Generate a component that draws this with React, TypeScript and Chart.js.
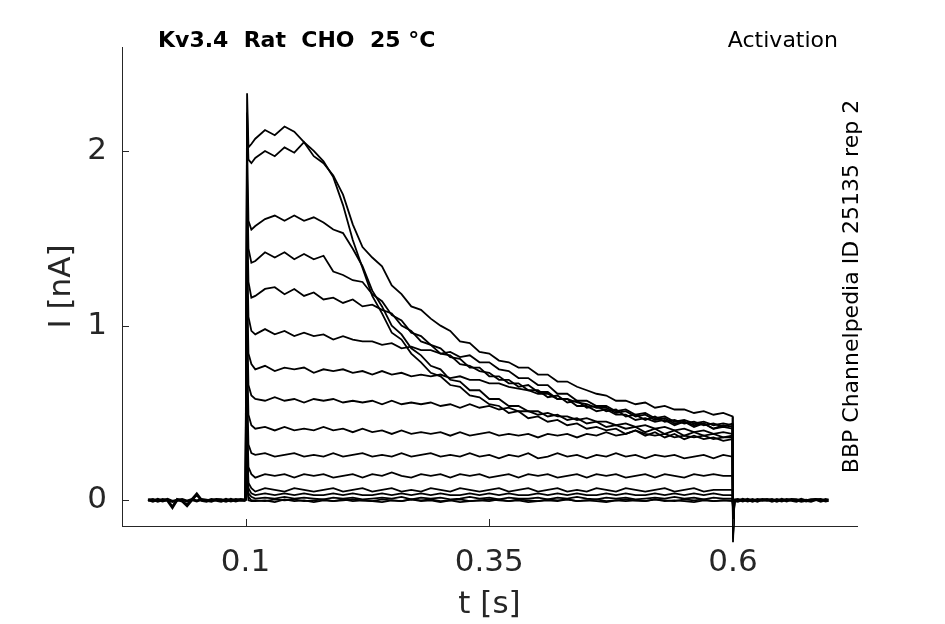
import React, { useEffect, useRef } from "react";
import { Chart, registerables } from "chart.js";

Chart.register(...registerables);

// ---- text ----
const TITLE = "Kv3.4  Rat  CHO  25 °C";
const SUBTITLE = "Activation";
const SIDE_LABEL = "BBP Channelpedia ID 25135 rep 2";
const X_LABEL = "t [s]";
const Y_LABEL = "I [nA]";

// ---- axes ----
const X_MIN = -0.0267;
const X_MAX = 0.7272;
const Y_MIN = -0.147;
const Y_MAX = 2.595;
const xTicks = [0.1, 0.35, 0.6];
const yTicks = [0, 1, 2];

// ---- time bases (s) ----
const tPre = [
  0.0, 0.005, 0.01, 0.015, 0.02, 0.025, 0.03, 0.035, 0.04, 0.045,
  0.05, 0.055, 0.06, 0.065, 0.07, 0.075, 0.08, 0.085, 0.09, 0.095, 0.1,
];
const tPost = [
  0.6, 0.605, 0.61, 0.615, 0.62, 0.625, 0.63, 0.635, 0.64, 0.645,
  0.65, 0.655, 0.66, 0.665, 0.67, 0.675, 0.68, 0.685, 0.69, 0.695, 0.698,
];
const tPulse = [
  0.1, 0.1016, 0.103, 0.106,
  0.11, 0.12, 0.13, 0.14, 0.15, 0.16, 0.17, 0.18, 0.19, 0.2,
  0.21, 0.22, 0.23, 0.24, 0.25, 0.26, 0.27, 0.28, 0.29, 0.3,
  0.31, 0.32, 0.33, 0.34, 0.35, 0.36, 0.37, 0.38, 0.39, 0.4,
  0.41, 0.42, 0.43, 0.44, 0.45, 0.46, 0.47, 0.48, 0.49, 0.5,
  0.51, 0.52, 0.53, 0.54, 0.55, 0.56, 0.57, 0.58, 0.59,
  0.5995, 0.6, 0.6015,
];

// ---- baseline (holding) current, nA ----
const basePreA = [0.0, 0.005, -0.005, 0.004, 0.0, -0.04, 0.005, -0.004, -0.03, 0.003, 0.035, 0.0, -0.005, 0.005, 0.0, -0.005, 0.005, -0.003, 0.005, 0.0, 0.0];
const basePreB = [0.004, -0.005, 0.005, -0.003, 0.005, -0.006, 0.0, 0.005, -0.005, 0.004, -0.004, 0.005, 0.0, -0.005, 0.005, 0.003, -0.005, 0.005, -0.003, 0.004, 0.0];
const basePostA = [0.0, 0.005, -0.004, 0.005, -0.005, 0.004, 0.0, 0.005, -0.005, 0.004, -0.004, 0.005, 0.0, -0.005, 0.005, -0.004, 0.004, 0.005, -0.005, 0.004, 0.0];
const basePostB = [0.0, -0.005, 0.005, -0.004, 0.004, -0.005, 0.005, 0.0, 0.004, -0.005, 0.005, -0.004, 0.005, 0.004, -0.005, 0.0, -0.005, 0.004, 0.005, -0.004, 0.0];

// ---- sweeps during the step, nA ----
const I1 = [
  0, 2.33, 2.02, 2.04,
  2.07, 2.12, 2.09, 2.14, 2.11, 2.05, 2.0, 1.94, 1.85, 1.69,
  1.49, 1.33, 1.17, 1.07, 0.96, 0.92, 0.84, 0.79, 0.73, 0.71,
  0.66, 0.65, 0.6, 0.59, 0.55, 0.54, 0.5, 0.51, 0.47, 0.48,
  0.45, 0.46, 0.43, 0.44, 0.41, 0.42, 0.4, 0.41, 0.38, 0.4,
  0.37, 0.39, 0.36, 0.38, 0.35, 0.37, 0.35, 0.36, 0.34,
  0.35, -0.24, 0,
];
const I2 = [
  0, 2.22, 1.95, 1.93,
  1.96, 2.0, 1.97, 2.02, 1.99, 2.05, 1.97, 1.93, 1.86, 1.75,
  1.58, 1.45, 1.39, 1.34, 1.23, 1.18, 1.11, 1.09, 1.04, 1.0,
  0.97, 0.91, 0.9, 0.85, 0.84, 0.8, 0.79, 0.76, 0.76, 0.72,
  0.72, 0.68, 0.68, 0.65, 0.63, 0.61, 0.6, 0.57, 0.57, 0.55,
  0.56, 0.53, 0.54, 0.52, 0.52, 0.5, 0.51, 0.49, 0.5,
  0.48, -0.21, 0,
];
const I3 = [
  0, 2.05, 1.6, 1.55,
  1.57, 1.61, 1.63, 1.6, 1.63, 1.6, 1.62, 1.59, 1.55, 1.53,
  1.44, 1.34, 1.2, 1.11, 1.0, 0.95, 0.87, 0.83, 0.77, 0.75,
  0.69, 0.68, 0.63, 0.63, 0.58, 0.58, 0.54, 0.54, 0.51, 0.51,
  0.48, 0.49, 0.46, 0.47, 0.44, 0.45, 0.42, 0.43, 0.41, 0.42,
  0.39, 0.41, 0.38, 0.4, 0.37, 0.39, 0.37, 0.38, 0.36,
  0.37, -0.22, 0,
];
const I4 = [
  0, 1.85, 1.44, 1.36,
  1.37, 1.42, 1.39, 1.42, 1.38, 1.41, 1.38, 1.4, 1.31, 1.29,
  1.26, 1.25, 1.18, 1.14, 1.06, 1.03, 0.96, 0.94, 0.89, 0.87,
  0.82, 0.81, 0.76, 0.76, 0.71, 0.71, 0.67, 0.67, 0.63, 0.63,
  0.59, 0.6, 0.56, 0.57, 0.53, 0.54, 0.51, 0.52, 0.48, 0.49,
  0.46, 0.48, 0.45, 0.46, 0.44, 0.45, 0.43, 0.44, 0.42,
  0.44, -0.2, 0,
];
const I5 = [
  0, 1.65, 1.25, 1.16,
  1.17, 1.21, 1.22, 1.18, 1.21, 1.17, 1.19, 1.15, 1.16, 1.13,
  1.15, 1.11, 1.12, 1.09, 1.07, 1.0, 0.97, 0.91, 0.89, 0.84,
  0.83, 0.78, 0.77, 0.74, 0.73, 0.69, 0.69, 0.65, 0.66, 0.62,
  0.62, 0.58, 0.58, 0.54, 0.54, 0.51, 0.52, 0.49, 0.49, 0.46,
  0.47, 0.45, 0.46, 0.43, 0.45, 0.42, 0.44, 0.41, 0.43,
  0.42, -0.18, 0,
];
const I6 = [
  0, 1.45, 1.05, 0.97,
  0.95, 0.98, 0.95, 0.97, 0.94, 0.96, 0.94, 0.95, 0.92, 0.94,
  0.92, 0.91, 0.91, 0.89, 0.9, 0.87, 0.88, 0.86, 0.86, 0.84,
  0.85, 0.82, 0.83, 0.79, 0.79, 0.75, 0.74, 0.7, 0.7, 0.66,
  0.66, 0.61, 0.61, 0.57, 0.57, 0.54, 0.54, 0.51, 0.52, 0.49,
  0.5, 0.47, 0.48, 0.45, 0.46, 0.44, 0.45, 0.43, 0.44,
  0.43, -0.17, 0,
];
const I7 = [
  0, 1.25, 0.84, 0.78,
  0.75, 0.77, 0.74, 0.76, 0.75, 0.76, 0.73, 0.75, 0.74, 0.75,
  0.73, 0.74, 0.72, 0.74, 0.72, 0.73, 0.71, 0.72, 0.71, 0.72,
  0.7, 0.71, 0.69, 0.69, 0.67, 0.67, 0.65, 0.64, 0.63, 0.61,
  0.61, 0.58, 0.58, 0.56, 0.55, 0.53, 0.53, 0.5, 0.51, 0.48,
  0.49, 0.46, 0.47, 0.44, 0.45, 0.43, 0.44, 0.41, 0.42,
  0.41, -0.16, 0,
];
const I8 = [
  0, 1.05, 0.66, 0.6,
  0.58, 0.57, 0.59, 0.57, 0.58, 0.56, 0.58, 0.57, 0.58, 0.56,
  0.57, 0.56, 0.57, 0.55, 0.57, 0.55, 0.56, 0.55, 0.56, 0.54,
  0.55, 0.53, 0.55, 0.53, 0.54, 0.52, 0.53, 0.51, 0.51, 0.49,
  0.5, 0.48, 0.48, 0.46, 0.47, 0.45, 0.45, 0.43, 0.44, 0.42,
  0.43, 0.41, 0.42, 0.4, 0.41, 0.39, 0.4, 0.38, 0.39,
  0.38, -0.15, 0,
];
const I9 = [
  0, 0.85, 0.49, 0.43,
  0.41, 0.42, 0.4, 0.42, 0.4, 0.41, 0.4, 0.42, 0.4, 0.41,
  0.39, 0.41, 0.39, 0.4, 0.38, 0.4, 0.38, 0.39, 0.38, 0.39,
  0.37, 0.39, 0.37, 0.38, 0.39, 0.37, 0.38, 0.37, 0.38, 0.36,
  0.38, 0.37, 0.38, 0.36, 0.38, 0.37, 0.39, 0.37, 0.38, 0.4,
  0.38, 0.37, 0.38, 0.36, 0.37, 0.36, 0.37, 0.35, 0.36,
  0.36, -0.13, 0,
];
const I10 = [
  0, 0.65, 0.32, 0.27,
  0.26, 0.27, 0.25, 0.26, 0.27, 0.25, 0.26, 0.25, 0.27, 0.25,
  0.26, 0.27, 0.25, 0.26, 0.25, 0.27, 0.25, 0.26, 0.27, 0.25,
  0.26, 0.25, 0.27, 0.25, 0.26, 0.24, 0.26, 0.25, 0.27, 0.24,
  0.25, 0.27, 0.25, 0.26, 0.24, 0.26, 0.25, 0.27, 0.25, 0.26,
  0.24, 0.26, 0.25, 0.26, 0.24, 0.25, 0.26, 0.24, 0.26,
  0.25, -0.1, 0,
];
const I11 = [
  0, 0.5, 0.19, 0.15,
  0.13, 0.15, 0.14, 0.15, 0.13, 0.15, 0.14, 0.15, 0.13, 0.14,
  0.15, 0.13, 0.15, 0.14, 0.16, 0.14, 0.13, 0.15, 0.14, 0.15,
  0.13, 0.15, 0.14, 0.15, 0.13, 0.14, 0.15, 0.13, 0.15, 0.14,
  0.15, 0.13, 0.14, 0.15, 0.13, 0.15, 0.14, 0.15, 0.13, 0.14,
  0.15, 0.13, 0.15, 0.14, 0.13, 0.15, 0.14, 0.15, 0.14,
  0.14, -0.08, 0,
];
const I12 = [
  0, 0.35, 0.1, 0.07,
  0.05, 0.07, 0.06, 0.05, 0.07, 0.06, 0.05, 0.06, 0.07, 0.05,
  0.06, 0.07, 0.05, 0.06, 0.07, 0.05, 0.06, 0.05, 0.07, 0.06,
  0.05, 0.07, 0.06, 0.05, 0.06, 0.07, 0.05, 0.06, 0.07, 0.05,
  0.06, 0.07, 0.05, 0.06, 0.05, 0.07, 0.06, 0.05, 0.07, 0.06,
  0.05, 0.06, 0.07, 0.05, 0.06, 0.07, 0.05, 0.06, 0.06,
  0.06, -0.06, 0,
];
const I13 = [
  0, 0.28, 0.07, 0.04,
  0.03, 0.04, 0.03, 0.04, 0.03, 0.04, 0.03, 0.03, 0.04, 0.03,
  0.04, 0.03, 0.03, 0.04, 0.03, 0.04, 0.03, 0.04, 0.03, 0.04,
  0.03, 0.03, 0.04, 0.03, 0.04, 0.03, 0.04, 0.03, 0.03, 0.04,
  0.03, 0.04, 0.03, 0.04, 0.03, 0.03, 0.04, 0.03, 0.04, 0.03,
  0.03, 0.04, 0.03, 0.04, 0.03, 0.04, 0.03, 0.04, 0.03,
  0.03, -0.05, 0,
];
const I14 = [
  0, 0.2, 0.04, 0.02,
  0.01, 0.015, 0.01, 0.02, 0.01, 0.015, 0.01, 0.005, 0.015, 0.01,
  0.015, 0.005, 0.01, 0.015, 0.01, 0.02, 0.005, 0.015, 0.01, 0.015,
  0.005, 0.01, 0.02, 0.01, 0.015, 0.005, 0.015, 0.01, 0.01, 0.015,
  0.005, 0.015, 0.01, 0.02, 0.01, 0.005, 0.015, 0.01, 0.015, 0.005,
  0.01, 0.015, 0.01, 0.02, 0.01, 0.015, 0.005, 0.015, 0.01,
  0.01, -0.04, 0,
];
const I15 = [
  0, 0.15, 0.02, 0.0,
  0.0, -0.005, 0.005, 0.0, 0.005, -0.005, 0.0, 0.005, -0.005, 0.0,
  0.005, 0.0, -0.005, 0.005, 0.0, -0.005, 0.005, 0.0, 0.005, -0.005,
  0.0, 0.005, -0.005, 0.0, 0.005, 0.0, -0.005, 0.005, 0.0, -0.005,
  0.005, 0.0, 0.005, -0.005, 0.0, 0.005, -0.005, 0.0, 0.005, 0.0,
  -0.005, 0.005, 0.0, -0.005, 0.005, 0.0, 0.005, -0.005, 0.0,
  0.0, -0.03, 0,
];
const I16 = [
  0, 0.1, 0.0, -0.005,
  -0.005, 0.0, -0.01, 0.005, -0.005, 0.0, -0.01, 0.0, -0.005, 0.005,
  -0.005, 0.0, -0.005, -0.01, 0.0, -0.005, 0.005, -0.005, 0.0, -0.01,
  0.0, -0.01, -0.005, 0.0, -0.005, 0.005, -0.005, 0.0, -0.01, -0.005,
  0.0, -0.005, 0.005, -0.005, 0.0, -0.005, -0.01, 0.0, -0.005, 0.0,
  -0.005, 0.005, -0.005, 0.0, -0.005, -0.01, 0.0, -0.005, 0.0,
  -0.005, -0.02, 0,
];

const sweeps = [I1, I2, I3, I4, I5, I6, I7, I8, I9, I10, I11, I12, I13, I14, I15, I16];
const baselines: [number[], number[]][] = [
  [tPre, basePreA],
  [tPre, basePreB],
  [tPost, basePostA],
  [tPost, basePostB],
];

const AXIS_GREY = "#262626";
const FONT = "DejaVu Sans";

const toPoints = (ts: number[], vs: number[]) => ts.map((t, i) => ({ x: t, y: vs[i] }));

const innerTicks = {
  id: "innerTicks",
  afterDraw(chart: any) {
    const { ctx, chartArea, scales } = chart;
    ctx.save();
    ctx.strokeStyle = AXIS_GREY;
    ctx.lineWidth = 1;
    scales.x.ticks.forEach((t: any) => {
      const px = Math.round(scales.x.getPixelForValue(t.value)) + 0.5;
      ctx.beginPath();
      ctx.moveTo(px, chartArea.bottom);
      ctx.lineTo(px, chartArea.bottom - 7);
      ctx.stroke();
    });
    scales.y.ticks.forEach((t: any) => {
      const py = Math.round(scales.y.getPixelForValue(t.value)) + 0.5;
      ctx.beginPath();
      ctx.moveTo(chartArea.left, py);
      ctx.lineTo(chartArea.left + 7, py);
      ctx.stroke();
    });
    ctx.restore();
  },
};

const annotations = {
  id: "annotations",
  afterDraw(chart: any) {
    const { ctx } = chart;
    ctx.save();
    ctx.fillStyle = "#000";
    ctx.textBaseline = "alphabetic";
    ctx.font = `bold 22px "${FONT}"`;
    ctx.textAlign = "left";
    ctx.fillText(TITLE, 158, 47);
    ctx.font = `22px "${FONT}"`;
    ctx.textAlign = "right";
    ctx.fillText(SUBTITLE, 838, 47);
    ctx.translate(858, 286.5);
    ctx.rotate(-Math.PI / 2);
    ctx.textAlign = "center";
    ctx.font = `22px "${FONT}"`;
    ctx.fillText(SIDE_LABEL, 0, 0);
    ctx.restore();
  },
};

export default function App() {
  const ref = useRef<HTMLCanvasElement>(null);

  useEffect(() => {
    if (!ref.current) return;
    const datasets: any[] = [];
    baselines.forEach(([ts, vs]) => {
      datasets.push({
        data: toPoints(ts, vs),
        borderColor: "#000",
        borderWidth: 3,
        pointRadius: 0,
        tension: 0,
      });
    });
    sweeps.forEach((vs) => {
      datasets.push({
        data: toPoints(tPulse, vs),
        borderColor: "#000",
        borderWidth: 1.8,
        pointRadius: 0,
        tension: 0,
      });
    });

    const tickFont = { family: FONT, size: 31 };
    const chart = new Chart(ref.current, {
      type: "line",
      data: { datasets },
      options: {
        responsive: false,
        animation: false,
        clip: false as any,
        layout: { padding: { left: 0, top: 47, right: 88, bottom: 0 } },
        plugins: { legend: { display: false }, tooltip: { enabled: false }, title: { display: false } },
        scales: {
          x: {
            type: "linear",
            min: X_MIN,
            max: X_MAX,
            afterBuildTicks: (scale: any) => {
              scale.ticks = xTicks.map((v) => ({ value: v }));
            },
            afterFit: (scale: any) => {
              scale.height = 98;
            },
            grid: { display: false, drawTicks: false },
            border: { display: true, color: AXIS_GREY, width: 1 },
            ticks: {
              font: tickFont,
              color: AXIS_GREY,
              padding: 18,
              maxRotation: 0,
              autoSkip: false,
              callback: (v: any) => String(v),
            },
            title: {
              display: true,
              text: X_LABEL,
              font: tickFont,
              color: AXIS_GREY,
              padding: { top: 0, bottom: 0 },
            },
          },
          y: {
            type: "linear",
            min: Y_MIN,
            max: Y_MAX,
            afterBuildTicks: (scale: any) => {
              scale.ticks = yTicks.map((v) => ({ value: v }));
            },
            afterFit: (scale: any) => {
              scale.width = 122;
            },
            grid: { display: false, drawTicks: false },
            border: { display: true, color: AXIS_GREY, width: 1 },
            ticks: {
              font: tickFont,
              color: AXIS_GREY,
              padding: 15,
              autoSkip: false,
              callback: (v: any) => String(v),
            },
            title: {
              display: true,
              text: Y_LABEL,
              font: tickFont,
              color: AXIS_GREY,
              padding: { top: 43, bottom: 0 },
            },
          },
        },
      },
      plugins: [innerTicks, annotations],
    });
    return () => chart.destroy();
  }, []);

  return (
    <div style={{ position: "absolute", left: 0, top: 0, width: 945, height: 624, background: "#fff" }}>
      <canvas ref={ref} width={945} height={624} style={{ width: 945, height: 624, display: "block" }} />
    </div>
  );
}
